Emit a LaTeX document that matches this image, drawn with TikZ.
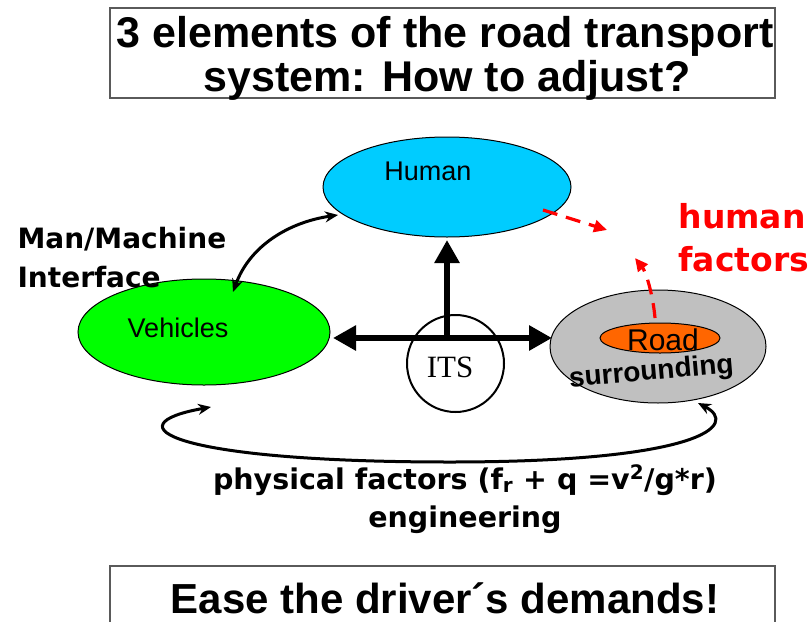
\documentclass[tikz,border=0pt]{standalone}
\usepackage{fontspec}
\setmainfont{Liberation Sans}
\newfontfamily\verd{DejaVu Sans}
\newfontfamily\timesf{Liberation Serif}
\usetikzlibrary{arrows.meta,shapes.geometric}
\definecolor{humcyan}{RGB}{0,204,255}
\definecolor{vehgreen}{RGB}{0,255,0}
\definecolor{roadgray}{RGB}{192,192,192}
\definecolor{roadorange}{RGB}{255,102,0}
\definecolor{boxgray}{RGB}{90,90,90}
\tikzset{
  elli/.style={ellipse, draw=black, line width=1pt, inner sep=0pt, outer sep=0pt},
  bigarrow/.style={line width=6pt, {Triangle[length=23pt,width=24pt]}-{Triangle[length=23pt,width=24pt]}},
  bigarrowone/.style={line width=6pt, -{Triangle[length=23pt,width=24pt]}},
  loopar/.style={line width=3pt, {Stealth[length=13pt,width=11pt]}-{Stealth[length=13pt,width=11pt]}},
  reddash/.style={red, line width=3.2pt, dash pattern=on 15pt off 9pt, -{Triangle[length=13pt,width=12pt]}},
  titlefont/.style={font=\fontsize{43}{46}\selectfont\bfseries},
  labfont/.style={font=\verd\fontsize{28}{32}\selectfont\bfseries},
  elfont/.style={font=\fontsize{27}{30}\selectfont}
}
\begin{document}
\begin{tikzpicture}[x=1pt,y=-1pt]
\useasboundingbox (0,0) rectangle (808,621);
% title box
\node[draw=boxgray, line width=1.2pt, minimum width=665pt, minimum height=90pt, inner sep=0pt] (tbox) at (442.5,53) {};
\node[titlefont, anchor=base] (t1) at (445,47) {3 elements of the road transport};
\node[titlefont, anchor=base] (t2) at (447,91) {system: How to adjust?};
% ellipses
\node[elli, fill=humcyan, minimum width=248pt, minimum height=100pt] (hum) at (447,187) {};
\node[elfont, anchor=base] (humt) at (428,180) {Human};
\node[elli, fill=vehgreen, minimum width=252pt, minimum height=106pt] (veh) at (204,332) {};
\node[elfont, anchor=base] (veht) at (178,337) {Vehicles};
\node[elli, fill=roadgray, minimum width=216pt, minimum height=113pt] (road) at (658,346.5) {};
\node[elli, fill=roadorange, minimum width=120pt, minimum height=30pt] (roadin) at (660,338) {};
\node[font=\fontsize{30}{34}\selectfont, anchor=base, inner sep=0pt] (roadt) at (663,350) {Road};
\node[font=\fontsize{28}{32}\selectfont\bfseries, anchor=base, rotate=5, inner sep=0pt] (surr) at (652,380) {surrounding};
% ITS
\node[circle, draw=black, line width=2pt, minimum size=97pt, inner sep=0pt] (its) at (455.5,363.5) {};
\node[font=\timesf\fontsize{31}{34}\selectfont, anchor=base] (itst) at (450,377) {ITS};
% hub arrows
\coordinate (hub) at (447,338);
\coordinate (vtip) at (333,338);
\coordinate (rtip) at (552,338);
\coordinate (htip) at (447,240);
\draw[bigarrow] (vtip) -- (rtip);
\draw[bigarrowone] (hub) -- (htip);
% man/machine interface
\coordinate (mmv) at (233,292);
\coordinate (mmh) at (338,215);
\draw[loopar] (mmv) .. controls (250,245) and (290,222) .. (mmh);
\node[labfont, anchor=base west] (mm1) at (14,248) {Man/Machine};
\node[labfont, anchor=base west] (mm2) at (14,287) {Interface};
% bottom loop
\coordinate (lv) at (211,407);
\coordinate (lbot) at (450,462);
\coordinate (lr) at (698,403);
\draw[loopar] (lv) .. controls (110,425) and (170,462) .. (lbot) .. controls (700,462) and (740,425) .. (lr);
\node[labfont, font=\verd\fontsize{28.5}{32}\selectfont\bfseries, anchor=base] (phys) at (465,489) {physical factors (f\textsubscript{r} + q =v\textsuperscript{2}/g*r)};
\node[labfont, font=\verd\fontsize{28.5}{32}\selectfont\bfseries, anchor=base] (eng) at (465,527) {engineering};
% human factors
\coordinate (hf1a) at (543,210);
\coordinate (hf1b) at (607,230);
\coordinate (hf2a) at (655,318);
\coordinate (hf2b) at (635,258);
\draw[reddash] (hf1a) -- (hf1b);
\draw[reddash] (hf2a) .. controls (653,295) and (646,272) .. (hf2b);
\node[labfont, red, font=\verd\fontsize{33}{36}\selectfont\bfseries, anchor=base west] (hf1) at (675,228) {human};
\node[labfont, red, font=\verd\fontsize{33}{36}\selectfont\bfseries, anchor=base west] (hf2) at (675,271) {factors};
% bottom box
\draw[boxgray, line width=1.2pt] (110,625) -- (110,566) -- (775,566) -- (775,625);
\node[titlefont, font=\fontsize{42}{46}\selectfont\bfseries, anchor=base] (ease) at (445,613) {Ease the driver´s demands!};
\end{tikzpicture}
\end{document}
